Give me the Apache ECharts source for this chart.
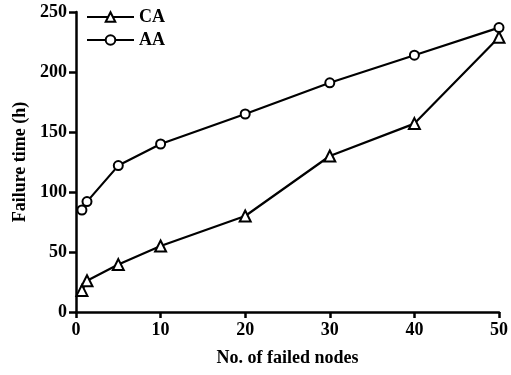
<!DOCTYPE html>
<html><head><meta charset="utf-8">
<script src="https://cdn.jsdelivr.net/npm/echarts@6/dist/echarts.min.js"></script>
<style>html,body{margin:0;padding:0;background:#fff}#c{width:511px;height:375px}</style>
</head><body><div id="c"></div>
<script>
const xTicks = [0, 10, 20, 30, 40, 50];
const yTicks = [0, 50, 100, 150, 200, 250];
const caX = [0.7, 1.3, 5, 10, 20, 30, 40, 50];
const caY = [18, 26, 39.5, 55, 80, 130, 157, 229];
const aaX = [0.7, 1.3, 5, 10, 20, 30, 40, 50];
const aaY = [85, 92, 122, 140, 165, 191, 214, 237];
const seriesNames = ['CA', 'AA'];

const font = 'Liberation Serif';
const chart = echarts.init(document.getElementById('c'));
chart.setOption({
  animation: false,
  backgroundColor: '#fff',
  grid: {left: 76, right: 11, top: 12, bottom: 63},
  legend: {
    left: 81, top: 3, orient: 'vertical', itemWidth: 47, itemHeight: 12, itemGap: 5,
    textStyle: {fontFamily: font, fontWeight: 'bold', fontSize: 18, color: '#000'},
    data: seriesNames
  },
  xAxis: {
    type: 'value', min: xTicks[0], max: xTicks[xTicks.length-1], interval: 10,
    name: 'No. of failed nodes', nameLocation: 'middle', nameGap: 37,
    nameTextStyle: {fontFamily: font, fontWeight: 'bold', fontSize: 18, color: '#000'},
    axisLine: {lineStyle: {color: '#000', width: 2.5}},
    axisTick: {show: true, length: 6, lineStyle: {color: '#000', width: 2.5}},
    axisLabel: {fontFamily: font, fontWeight: 'bold', fontSize: 18, color: '#000', margin: 9},
    splitLine: {show: false}
  },
  yAxis: {
    type: 'value', min: yTicks[0], max: yTicks[yTicks.length-1], interval: 50,
    name: 'Failure time (h)', nameLocation: 'middle', nameGap: 44, nameRotate: 90,
    nameTextStyle: {fontFamily: font, fontWeight: 'bold', fontSize: 18, color: '#000'},
    axisLine: {show: true, lineStyle: {color: '#000', width: 2.5}},
    axisTick: {show: true, length: 7, lineStyle: {color: '#000', width: 2.5}},
    axisLabel: {fontFamily: font, fontWeight: 'bold', fontSize: 18, color: '#000', margin: 9},
    splitLine: {show: false}
  },
  series: [
    {
      name: seriesNames[0], type: 'line', data: caX.map((x, i) => [x, caY[i]]),
      symbol: 'triangle', symbolSize: 11, showAllSymbol: true,
      lineStyle: {color: '#000', width: 2.2},
      itemStyle: {color: '#fff', borderColor: '#000', borderWidth: 2}
    },
    {
      name: seriesNames[1], type: 'line', data: aaX.map((x, i) => [x, aaY[i]]),
      symbol: 'circle', symbolSize: 9, showAllSymbol: true,
      lineStyle: {color: '#000', width: 2.2},
      itemStyle: {color: '#fff', borderColor: '#000', borderWidth: 2}
    }
  ]
});
</script></body></html>
